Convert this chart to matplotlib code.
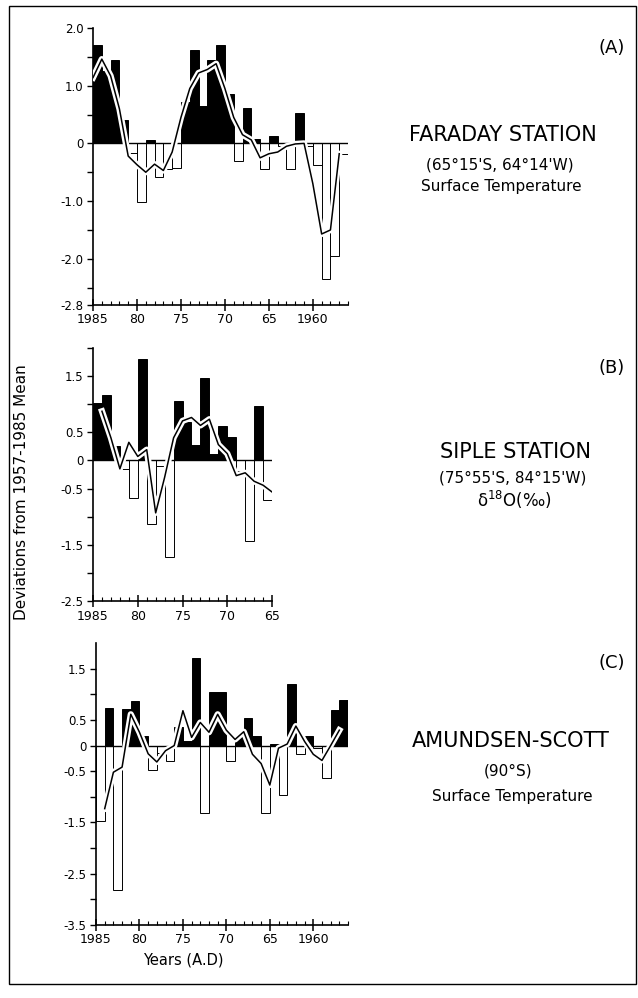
import numpy as np
import matplotlib.pyplot as plt
import matplotlib.patheffects as pe
from matplotlib.patches import Rectangle

plt.rcParams['font.family'] = ['DejaVu Sans']
plt.rcParams['axes.unicode_minus'] = False

# (A) Faraday station, 1985 -> 1957
years_a = list(range(1985, 1956, -1))
faraday = [1.70, 1.25, 1.45, 0.40, -0.17, -1.02, 0.06, -0.58, -0.45, -0.43,
           0.72, 1.62, 0.65, 1.44, 1.70, 0.86, -0.30, 0.61, 0.07, -0.45,
           0.12, -0.05, -0.45, 0.52, -0.05, -0.37, -2.35, -1.95, -0.18]
faraday_smooth = [1.14, 1.46, 1.17, 0.60, -0.22, -0.37, -0.50, -0.36, -0.47, -0.15,
                  0.45, 0.95, 1.22, 1.28, 1.38, 0.95, 0.45, 0.15, 0.06, -0.25,
                  -0.18, -0.15, -0.05, -0.01, 0.00, -0.70, -1.57, -1.50, -0.18]

# (B) Siple station, 1985 -> 1965
years_b = list(range(1985, 1964, -1))
siple = [1.02, 1.15, 0.25, -0.15, -0.66, 1.80, -1.13, -0.10, -1.72, 1.06,
         0.68, 0.27, 1.46, 0.12, 0.61, 0.42, -0.18, -1.42, 0.97, -0.71, -1.47]
siple_smooth_years = list(range(1984, 1964, -1))
siple_smooth = [0.87, 0.40, -0.15, 0.32, 0.07, 0.19, -0.93, -0.30, 0.40, 0.70,
                0.76, 0.62, 0.73, 0.28, 0.12, -0.27, -0.22, -0.37, -0.44, -0.56]

# (C) Amundsen-Scott, 1985 -> 1957
years_c = list(range(1985, 1956, -1))
amundsen = [-1.47, 0.73, -2.82, 0.71, 0.87, 0.19, -0.47, -0.15, -0.30, 0.37,
            0.08, 1.71, -1.31, 1.04, 1.04, -0.30, 0.19, 0.53, 0.19, -1.31,
            0.03, -0.97, 1.20, -0.16, 0.19, -0.05, -0.64, 0.70, 0.88]
amundsen_smooth_years = list(range(1984, 1956, -1))
amundsen_smooth = [-1.23, -0.52, -0.42, 0.61, 0.26, -0.16, -0.32, -0.10, 0.00, 0.68,
                   0.16, 0.45, 0.26, 0.61, 0.30, 0.12, 0.27, -0.17, -0.35, -0.77,
                   -0.05, 0.03, 0.38, 0.08, -0.17, -0.29, 0.00, 0.30]

year_ticks = [1985, 1980, 1975, 1970, 1965, 1960]
year_labels = ["1985", "80", "75", "70", "65", "1960"]


def draw_panel(ax, years, vals, line_x, line_y, xlim, ylim, yticks, ylabels):
    colors = ['black' if v > 0 else 'white' for v in vals]
    ax.bar(years, vals, width=-1, align='edge', color=colors,
           edgecolor='black', linewidth=0.7, zorder=1)
    ax.axhline(0, color='black', linewidth=1.0, zorder=2)
    ax.plot(line_x, line_y, color='black', linewidth=1.1, zorder=3,
            path_effects=[pe.Stroke(linewidth=4.5, foreground='white'), pe.Normal()])

    ax.set_xlim(xlim)
    ax.set_ylim(ylim)
    for s in ['top', 'right']:
        ax.spines[s].set_visible(False)
    for s in ['left', 'bottom']:
        ax.spines[s].set_linewidth(1.2)

    xt = [t for t in year_ticks if min(xlim) <= t <= max(xlim)]
    ax.set_xticks(xt)
    ax.set_xticklabels(year_labels[:len(xt)], fontsize=9)
    ax.set_xticks(np.arange(xlim[0], xlim[1] - 0.5, -1), minor=True)
    ax.tick_params(axis='x', which='major', direction='inout', length=8, width=1.1, pad=2)
    ax.tick_params(axis='x', which='minor', direction='in', length=3, width=0.8)

    ax.set_yticks(yticks)
    ax.set_yticklabels(ylabels, fontsize=8.5)
    ax.tick_params(axis='y', which='major', direction='out', length=4, width=1.0, pad=3)


fig = plt.figure(figsize=(6.38, 9.98), dpi=100)

ax_a = fig.add_axes([0.1458, 0.6944, 0.3997, 0.2776])
ax_b = fig.add_axes([0.1458, 0.3973, 0.2806, 0.2545])
ax_c = fig.add_axes([0.1505, 0.0731, 0.3950, 0.2826])

yt_a = [2.0, 1.5, 1.0, 0.5, 0, -0.5, -1.0, -1.5, -2.0, -2.5, -2.8]
yl_a = ["2.0", "", "1.0", "", "0", "", "-1.0", "", "-2.0", "", "-2.8"]
draw_panel(ax_a, years_a, faraday, years_a, faraday_smooth,
           (1985, 1956), (-2.8, 2.0), yt_a, yl_a)

yt_b = [2.0, 1.5, 1.0, 0.5, 0, -0.5, -1.0, -1.5, -2.0, -2.5]
yl_b = ["", "1.5", "", "0.5", "0", "-0.5", "", "-1.5", "", "-2.5"]
draw_panel(ax_b, years_b, siple, siple_smooth_years, siple_smooth,
           (1985, 1965), (-2.5, 2.0), yt_b, yl_b)

yt_c = [1.5, 1.0, 0.5, 0, -0.5, -1.0, -1.5, -2.0, -2.5, -3.0, -3.5]
yl_c = ["1.5", "", "0.5", "0", "-0.5", "", "-1.5", "", "-2.5", "", "-3.5"]
draw_panel(ax_c, years_c, amundsen, amundsen_smooth_years, amundsen_smooth,
           (1985, 1956), (-3.5, 2.0), yt_c, yl_c)


def fx(px):
    return px / 638


def fy(py):
    return 1 - py / 998


# station captions
fig.text(fx(612), fy(48), "(A)", fontsize=13, ha='center', va='center')
fig.text(fx(503), fy(135), "FARADAY STATION", fontsize=15, ha='center', va='center')
fig.text(fx(500), fy(165), "(65°15'S, 64°14'W)", fontsize=11, ha='center', va='center')
fig.text(fx(501), fy(187), "Surface Temperature", fontsize=11, ha='center', va='center')

fig.text(fx(612), fy(368), "(B)", fontsize=13, ha='center', va='center')
fig.text(fx(515), fy(452), "SIPLE STATION", fontsize=15, ha='center', va='center')
fig.text(fx(513), fy(478), "(75°55'S, 84°15'W)", fontsize=11, ha='center', va='center')
fig.text(fx(514), fy(500), "δ$^{18}$O(‰)", fontsize=12, ha='center', va='center')

fig.text(fx(612), fy(663), "(C)", fontsize=13, ha='center', va='center')
fig.text(fx(511), fy(741), "AMUNDSEN-SCOTT", fontsize=15, ha='center', va='center')
fig.text(fx(508), fy(771), "(90°S)", fontsize=11, ha='center', va='center')
fig.text(fx(512), fy(796), "Surface Temperature", fontsize=11, ha='center', va='center')

fig.text(fx(22), fy(492), "Deviations from 1957-1985 Mean", fontsize=11,
         rotation=90, ha='center', va='center')
fig.text(fx(183), fy(960), "Years (A.D)", fontsize=10.5, ha='center', va='center')

# frame around the whole figure
fig.patches.append(Rectangle((fx(9), fy(984)), fx(636) - fx(9), fy(6) - fy(984),
                             transform=fig.transFigure, fill=False,
                             edgecolor='black', linewidth=1.0))

fig.savefig("out.png", dpi=100)
